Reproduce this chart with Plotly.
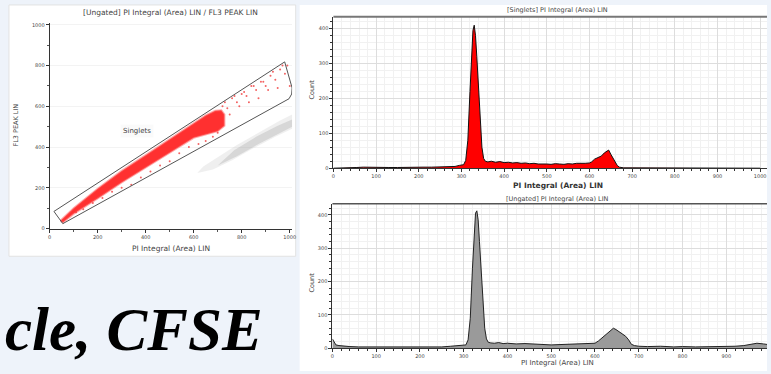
import plotly.graph_objects as go

W, H = 771, 374

# ---------------- data ----------------
# Singlets histogram (top, red)
singlets_x = [0, 40, 55, 70, 90, 110, 130, 150, 170, 190, 210, 230, 250, 265, 275,
              285, 295, 305, 310, 315, 320, 324, 327, 330, 333, 336, 340, 344, 348, 352,
              356, 362, 370, 380, 390, 400, 410, 420, 430, 440, 450, 460, 470, 480, 490,
              500, 510, 520, 530, 540, 550, 560, 570, 580, 590, 600, 605, 612, 620, 628,
              635, 640, 645, 650, 655, 660, 665, 670, 680, 700, 750, 800, 850, 900, 950, 1000]
singlets_count = [0, 0, 2, 3, 2, 3, 2, 2, 3, 2, 3, 3, 4, 5, 6,
                  5, 8, 10, 22, 80, 220, 330, 395, 410, 380, 320, 230, 130, 60, 28,
                  20, 18, 20, 17, 19, 16, 17, 15, 16, 14, 15, 13, 14, 12, 13,
                  12, 11, 13, 12, 11, 13, 12, 14, 13, 14, 15, 18, 26, 30, 35,
                  44, 48, 52, 40, 28, 16, 8, 3, 1, 1, 1, 0, 1, 0, 1, 0]

# Ungated histogram (bottom, gray)
ungated_x = [0, 3, 8, 15, 25, 40, 60, 80, 100, 130, 160, 190, 220, 250, 270,
             285, 295, 305, 310, 315, 320, 324, 327, 330, 333, 336, 340, 344, 348, 352,
             356, 362, 370, 380, 390, 400, 420, 440, 460, 480, 500, 520, 540, 560, 580,
             600, 608, 615, 622, 630, 637, 642, 648, 655, 662, 670, 677, 683, 690, 700,
             720, 750, 780, 800, 830, 860, 890, 920, 940, 955, 970, 985, 1000]
ungated_count = [28, 20, 10, 8, 6, 5, 4, 4, 3, 3, 3, 2, 3, 4, 6,
                 7, 8, 10, 25, 90, 240, 350, 405, 412, 385, 320, 230, 130, 60, 28,
                 18, 16, 15, 17, 14, 15, 13, 14, 12, 11, 10, 11, 12, 11, 13,
                 15, 22, 30, 38, 46, 55, 60, 56, 50, 44, 36, 25, 12, 8, 6,
                 5, 6, 4, 5, 4, 5, 4, 6, 8, 12, 15, 13, 10]

# Singlets gate polygon (PI area vs FL3 peak)
gate_x = [18, 55, 997, 1008, 1010, 979, 18]
gate_y = [84, 24, 637, 660, 690, 818, 84]

# dense singlet band outline
band_x = [45, 100, 200, 300, 400, 500, 600, 650, 690, 715, 728,
          728, 700, 650, 600, 500, 400, 300, 200, 100, 55, 45]
band_y = [38, 100, 195, 283, 360, 438, 515, 555, 578, 580, 560,
          505, 478, 462, 445, 372, 300, 226, 148, 72, 30, 38]

# sparse singlet events
sparse_x = [720, 740, 760, 780, 800, 820, 840, 860, 880, 900, 920, 940, 960, 980, 750,
            790, 830, 870, 910, 950, 990, 730, 770, 810, 850, 890, 930, 970, 1000, 700,
            680, 650, 620, 580, 540, 500, 460, 420, 380, 340, 300, 260, 220, 180, 140, 110]
sparse_y = [600, 590, 640, 620, 660, 650, 700, 680, 720, 700, 750, 730, 780, 760, 560,
            600, 620, 640, 680, 690, 800, 620, 650, 670, 700, 720, 770, 800, 700, 470,
            450, 430, 415, 400, 370, 330, 310, 280, 250, 215, 200, 180, 150, 125, 95, 80]

# doublet (gray) cloud outline
doublet_x = [615, 680, 760, 850, 940, 1010, 1010, 960, 870, 780, 700, 640, 615]
doublet_y = [272, 290, 335, 395, 450, 490, 560, 530, 470, 410, 350, 305, 272]
doublet_core_x = [700, 780, 870, 950, 1010, 1010, 950, 860, 770, 700]
doublet_core_y = [310, 355, 415, 465, 500, 535, 505, 450, 385, 310]

# ---------------- figure ----------------
fig = go.Figure()

def px_x(p):
    return p / W

def px_y(p):
    return 1 - p / H

# scatter plot traces
fig.add_trace(go.Scatter(x=doublet_x, y=doublet_y, mode="lines", fill="toself",
                         fillcolor="rgba(190,190,190,0.25)", line=dict(width=0),
                         xaxis="x", yaxis="y", hoverinfo="skip"))
fig.add_trace(go.Scatter(x=doublet_core_x, y=doublet_core_y, mode="lines", fill="toself",
                         fillcolor="rgba(160,160,160,0.3)", line=dict(width=0),
                         xaxis="x", yaxis="y", hoverinfo="skip"))
fig.add_trace(go.Scatter(x=band_x, y=band_y, mode="lines", fill="toself",
                         fillcolor="rgba(255,30,30,0.92)",
                         line=dict(width=2, color="rgba(255,90,90,0.5)"),
                         xaxis="x", yaxis="y", hoverinfo="skip"))
fig.add_trace(go.Scatter(x=sparse_x, y=sparse_y, mode="markers",
                         marker=dict(size=2, color="rgba(240,60,60,0.8)"),
                         xaxis="x", yaxis="y"))
fig.add_trace(go.Scatter(x=gate_x, y=gate_y, mode="lines",
                         line=dict(color="#555555", width=1),
                         xaxis="x", yaxis="y"))

# histograms
fig.add_trace(go.Scatter(x=singlets_x, y=singlets_count, mode="lines",
                         line=dict(color="#111111", width=1),
                         fill="tozeroy", fillcolor="#ff0000",
                         xaxis="x2", yaxis="y2"))
fig.add_trace(go.Scatter(x=ungated_x, y=ungated_count, mode="lines",
                         line=dict(color="#222222", width=1),
                         fill="tozeroy", fillcolor="#9a9a9a",
                         xaxis="x3", yaxis="y3"))

tickfont = dict(family="DejaVu Sans", size=5, color="#444444")

def hist_x(domain, rng):
    return dict(domain=domain, range=rng, tickvals=list(range(0, 1001, 100)),
                ticks="outside", ticklen=3, tickcolor="#333333", showline=True,
                linecolor="#333333", linewidth=1, showgrid=True, gridcolor="#dddddd",
                gridwidth=1, zeroline=False, tickfont=tickfont,
                minor=dict(dtick=20, ticks="outside", ticklen=2, tickcolor="#333333",
                           showgrid=True, gridcolor="#f1f1f1"))

def hist_y(domain, rng):
    return dict(domain=domain, range=rng, tickvals=[0, 100, 200, 300, 400],
                ticks="outside", ticklen=3, tickcolor="#333333", showline=True,
                linecolor="#333333", linewidth=1, showgrid=True, gridcolor="#dddddd",
                zeroline=False, tickfont=tickfont,
                minor=dict(dtick=20, ticks="outside", ticklen=2, tickcolor="#333333",
                           showgrid=True, gridcolor="#f1f1f1"))

fig.update_layout(
    width=W, height=H,
    margin=dict(l=0, r=0, t=0, b=0),
    paper_bgcolor="#eef3fa",
    plot_bgcolor="#ffffff",
    showlegend=False,
    xaxis=dict(domain=[px_x(48), px_x(292.4)], range=[0, 1010],
               tickvals=[0, 200, 400, 600, 800, 1000], ticks="outside", ticklen=3,
               tickcolor="#333333", showline=True, linecolor="#333333", linewidth=1,
               showgrid=False, zeroline=False, tickfont=tickfont,
               minor=dict(dtick=100, ticks="outside", ticklen=2, tickcolor="#555555")),
    yaxis=dict(domain=[px_y(230), px_y(22)], range=[0, 1010],
               tickvals=[0, 200, 400, 600, 800, 1000], ticks="outside", ticklen=3,
               tickcolor="#333333", showline=True, linecolor="#333333", linewidth=1,
               showgrid=True, gridcolor="#f3f3f3", zeroline=False, tickfont=tickfont,
               minor=dict(dtick=100, ticks="outside", ticklen=2, tickcolor="#555555")),
    xaxis2=hist_x([px_x(334), 1.0], [0, 1016]),
    yaxis2=hist_y([px_y(169), px_y(16)], [0, 434]),
    xaxis3=hist_x([px_x(333), 1.0], [0, 993]),
    yaxis3=hist_y([px_y(351), px_y(205)], [0, 433]),
)
fig.update_layout(yaxis2=dict(anchor="x2"), xaxis2=dict(anchor="y2"),
                  yaxis3=dict(anchor="x3"), xaxis3=dict(anchor="y3"))

# panels
shapes = [
    dict(type="rect", xref="paper", yref="paper", x0=px_x(7), x1=px_x(296),
         y0=px_y(258), y1=px_y(4), fillcolor="white",
         line=dict(color="#e2e2e2", width=1), layer="below"),
    dict(type="rect", xref="paper", yref="paper", x0=px_x(300), x1=1.0,
         y0=0, y1=px_y(4), fillcolor="white", line=dict(width=0), layer="below"),
    dict(type="line", xref="paper", yref="paper", x0=px_x(334), x1=1.0,
         y0=px_y(16), y1=px_y(16), line=dict(color="#777777", width=2)),
    dict(type="line", xref="paper", yref="paper", x0=px_x(333), x1=1.0,
         y0=px_y(205), y1=px_y(205), line=dict(color="#555555", width=1.5)),
]
fig.update_layout(shapes=shapes)

lab = dict(family="DejaVu Sans", color="#444444")
ann = [
    dict(text="[Ungated] PI Integral (Area) LIN / FL3 PEAK LIN", x=px_x(170), y=px_y(12),
         font=dict(size=7.5, **lab)),
    dict(text="PI Integral (Area) LIN", x=px_x(170), y=px_y(250), font=dict(size=7.5, **lab)),
    dict(text="FL3 PEAK LIN", x=px_x(14), y=px_y(125), textangle=-90, font=dict(size=6.5, **lab)),
    dict(text="Singlets", x=365, y=481, xref="x", yref="y", font=dict(size=7, **lab),
         bgcolor="rgba(250,250,250,0.9)", borderpad=2),
    dict(text="[Singlets] PI Integral (Area) LIN", x=px_x(560), y=px_y(9),
         font=dict(size=6.5, **lab)),
    dict(text="PI Integral (Area) LIN", x=px_x(560), y=px_y(186),
         font=dict(size=7.5, family="DejaVu Sans", color="#333333", weight="bold")),
    dict(text="Count", x=px_x(312), y=px_y(90), textangle=-90, font=dict(size=6.5, **lab)),
    dict(text="[Ungated] PI Integral (Area) LIN", x=px_x(560), y=px_y(200),
         font=dict(size=6.5, **lab)),
    dict(text="PI Integral (Area) LIN", x=px_x(560), y=px_y(366), font=dict(size=7, **lab)),
    dict(text="Count", x=px_x(312), y=px_y(285), textangle=-90, font=dict(size=6.5, **lab)),
    dict(text="cle, CFSE", x=px_x(265), y=px_y(332), xanchor="right", yanchor="middle",
         font=dict(family="Liberation Serif", size=61, color="black",
                   weight="bold", style="italic")),
]
for a in ann:
    a.setdefault("xref", "paper")
    a.setdefault("yref", "paper")
    a.setdefault("xanchor", "center")
    a.setdefault("yanchor", "middle")
    a["showarrow"] = False
fig.update_layout(annotations=ann)

fig.write_html("out.html",
               config={"displayModeBar": False},
               post_script="document.body.style.margin='0';"
                           "document.body.style.background='#eef3fa';")
